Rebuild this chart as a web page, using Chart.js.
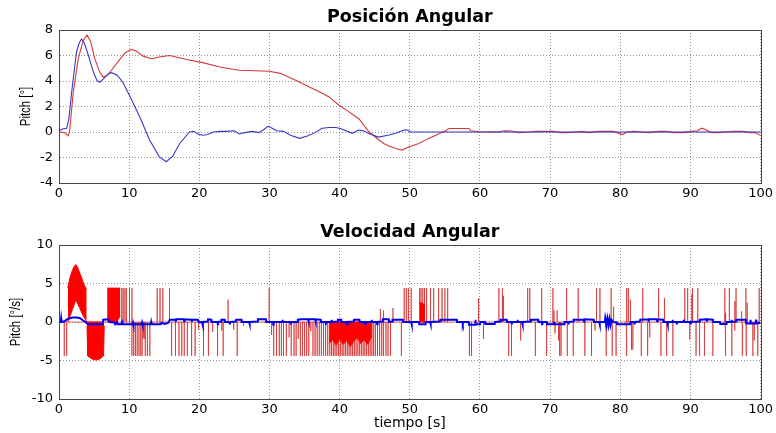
<!DOCTYPE html>
<html>
<head>
<meta charset="utf-8">
<script src="https://cdn.jsdelivr.net/npm/chart.js@4"></script>
<style>
  html, body { margin: 0; padding: 0; background: #fff; }
  #wrap { position: relative; width: 776px; height: 433px; }
  canvas { position: absolute; left: 0; }
  #pos { top: 0; }
  #vel { top: 216px; }
</style>
</head>
<body>
<div id="wrap">
  <canvas id="pos" width="776" height="216"></canvas>
  <canvas id="vel" width="776" height="217"></canvas>
</div>
<script>
// pitch angle [deg] vs time [s]
const pitchBlue = [
  [0, 0.1], [0.6, 0.25], [1.1, 0.3], [1.4, 1.0], [1.8, 3.1], [2.5, 6.3], [2.9, 7.0], [3.2, 7.3],
  [3.6, 7.0], [4.2, 6.0], [4.9, 4.7], [5.4, 4.05], [5.8, 3.9], [6.4, 4.2], [7.0, 4.55], [7.5, 4.65],
  [8.3, 4.45], [9.1, 3.9], [10.1, 2.8], [11.5, 1.2], [12.9, -0.6], [14.3, -1.95], [15.3, -2.33],
  [16.2, -1.9], [17.2, -0.9], [18.6, 0.0], [19.2, 0.05], [19.8, -0.15], [20.5, -0.25], [21.2, -0.2],
  [22.0, 0.0], [23.0, 0.05], [24.0, 0.05], [25.0, 0.1], [25.7, -0.15], [26.5, -0.05], [27.5, 0.05],
  [28.5, -0.05], [29.2, 0.2], [29.8, 0.45], [30.4, 0.3], [31.0, 0.1], [32.0, 0.05], [33.0, -0.25],
  [34.3, -0.5], [35.5, -0.3], [36.5, -0.05], [37.5, 0.3], [38.5, 0.35], [39.5, 0.35], [40.2, 0.25],
  [41.8, -0.1], [42.7, 0.15], [43.4, 0.1], [44.1, -0.1], [45.5, -0.4], [46.9, -0.25], [48.0, -0.1],
  [48.9, 0.1], [49.4, 0.18], [49.8, 0.12], [50.1, 0.0], [100, 0.0]
];
const pitchRed = [
  [0, 0.0], [0.8, -0.05], [1.3, -0.3], [1.5, 0.0], [2.03, 3.1], [2.75, 5.75], [3.46, 7.2], [4.0, 7.6],
  [4.5, 7.1], [5.1, 5.75], [5.8, 4.7], [6.3, 4.3], [7.0, 4.5], [7.7, 5.0], [8.4, 5.5], [9.4, 6.2],
  [10.3, 6.48], [11.0, 6.35], [12.0, 5.95], [13.2, 5.75], [14.5, 5.9], [15.8, 6.0], [17.0, 5.85],
  [18.5, 5.65], [20.5, 5.44], [22.9, 5.1], [25.7, 4.84], [28.0, 4.8], [30.0, 4.76], [31.5, 4.6],
  [32.8, 4.3], [34.2, 3.95], [35.6, 3.55], [37.1, 3.15], [38.5, 2.75], [39.9, 2.1], [41.3, 1.6],
  [42.8, 1.0], [43.5, 0.5], [44.2, 0.0], [45.0, -0.35], [45.6, -0.63], [46.3, -0.9], [47.0, -1.1],
  [48.2, -1.34], [48.9, -1.42], [49.9, -1.15], [51.3, -0.9], [52.7, -0.5], [54.1, -0.16], [55.1, 0.1],
  [55.6, 0.28], [58.4, 0.28], [58.7, 0.1], [59.8, 0.02], [61.0, 0.0], [62.5, 0.0], [63.5, 0.1],
  [64.5, 0.08], [65.5, -0.05], [67.0, 0.0], [68.0, 0.05], [69.0, 0.05], [70.5, 0.05], [71.5, -0.05],
  [72.5, -0.05], [73.5, 0.0], [74.5, 0.05], [75.5, -0.05], [77.0, 0.05], [79.0, 0.05], [80.3, -0.2],
  [81.0, 0.0], [82.0, 0.05], [83.0, 0.0], [84.0, -0.05], [85.5, 0.05], [86.5, 0.05], [87.5, -0.05],
  [89.0, -0.05], [90.0, 0.05], [91.0, 0.1], [91.6, 0.3], [92.3, 0.15], [93.0, -0.05], [94.0, -0.05],
  [95.0, 0.0], [96.0, 0.05], [97.5, 0.05], [98.5, -0.05], [99.3, -0.05], [99.7, -0.2], [100, -0.25]
];

// pitch rate [deg/s] vs time [s]
const velBlue = [
  [0, 0], [0.25, 0.05], [0.3, 0.45], [0.35, 0], [0.8, 0.1], [1.0, 0.25], [1.4, 0.45], [1.8, 0.55],
  [2.2, 0.6], [2.6, 0.58], [3.0, 0.5], [3.3, 0.3], [3.6, 0.1], [3.9, -0.1], [4.1, -0.3], [6.2, -0.3],
  [6.3, 0.3], [7.1, 0.35], [7.2, 0.0], [7.9, -0.05], [8.0, -0.3], [8.3, -0.05], [8.35, -0.3],
  [8.9, -0.3], [9.0, -0.05], [9.05, -0.3], [10.5, -0.3], [10.55, -0.1], [10.6, -0.3], [11.8, -0.3],
  [11.85, -0.1], [11.9, -0.3], [13.1, -0.3], [13.15, -0.05], [13.2, -0.3], [14.5, -0.3], [14.6, -0.1],
  [15.1, -0.25], [15.6, -0.1], [15.8, 0.3], [16.6, 0.3], [16.65, 0.05], [16.7, 0.35], [17.8, 0.35],
  [17.85, 0.1], [17.9, 0.35], [18.9, 0.3], [18.95, 0.05], [19.0, 0.3], [19.8, 0.3], [19.9, 0.0],
  [20.4, -0.05], [20.45, -0.35], [20.5, 0], [21.2, 0.05], [21.25, 0.35], [21.7, 0.3], [21.75, 0],
  [22.6, 0], [22.65, -0.4], [22.7, 0], [23.1, 0.05], [23.15, 0.3], [23.6, 0.3], [23.65, 0],
  [24.3, 0.0], [24.35, -0.3], [24.4, 0], [25.2, 0.05], [25.25, 0.3], [26.0, 0.3], [26.05, 0],
  [27.1, 0], [27.15, -0.25], [27.2, 0], [28.3, 0.05], [28.35, 0.35], [29.5, 0.35], [29.55, 0],
  [30.5, 0], [30.55, -0.35], [30.6, 0], [31.8, 0], [31.85, 0.3], [31.9, 0], [33.0, 0], [33.05, -0.3],
  [33.1, 0], [34.0, 0], [34.05, 0.3], [34.5, 0.35], [35.5, 0.35], [35.55, 0.1], [35.6, 0.35],
  [36.5, 0.35], [36.55, 0.1], [36.6, 0.35], [37.3, 0.3], [37.35, 0], [38.0, 0], [38.05, -0.35],
  [38.1, 0], [38.8, 0], [38.85, 0.3], [38.9, 0], [39.7, 0.05], [39.75, 0.3], [40.2, 0.3], [40.25, 0],
  [41.0, 0], [41.05, -0.3], [41.1, 0], [42.0, 0.05], [42.05, 0.3], [42.8, 0.3], [42.85, 0],
  [43.6, 0], [43.65, -0.3], [43.7, 0], [44.5, 0], [44.55, 0.3], [44.6, 0], [45.3, 0], [45.35, -0.3],
  [45.4, 0], [46.1, 0.05], [46.15, 0.35], [47.0, 0.35], [47.05, 0], [47.5, 0.05], [47.55, 0.3],
  [49.0, 0.3], [49.05, 0], [50.2, 0], [50.25, -0.3], [50.3, 0], [51.3, 0], [51.35, -0.3],
  [52.2, -0.3], [52.25, 0], [52.9, 0], [52.95, -0.25], [53.0, 0], [54.3, 0.05], [54.35, 0.3],
  [56.7, 0.3], [56.75, 0], [57.5, 0], [57.55, -0.2], [57.6, 0], [58.4, 0], [58.45, -0.35],
  [59.3, -0.35], [59.35, 0.3], [59.4, -0.3], [60.0, -0.3], [60.05, 0], [60.7, 0], [60.75, -0.25],
  [62.1, -0.25], [62.15, 0], [62.9, 0.05], [62.95, 0.3], [63.8, 0.3], [63.85, 0], [64.5, 0],
  [64.55, -0.3], [64.6, 0], [65.3, 0], [65.35, 0.3], [65.4, 0], [66.0, 0], [66.05, -0.3], [66.1, 0],
  [67.2, 0.05], [67.25, 0.3], [68.3, 0.3], [68.35, 0], [68.8, 0], [68.85, -0.3], [68.9, 0],
  [69.5, 0], [69.55, -0.3], [70.5, -0.3], [70.55, 0], [70.6, -0.3], [72.0, -0.3], [72.05, 0],
  [72.6, 0], [72.65, -0.3], [72.7, 0], [73.3, 0.05], [73.35, 0.3], [74.8, 0.3], [74.85, 0.05],
  [74.9, 0.35], [76.2, 0.3], [76.25, 0], [77.0, 0], [77.05, -0.3], [77.1, 0], [77.8, 0],
  [77.85, 0.45], [78.0, -0.45], [78.15, 0.45], [78.3, -0.45], [78.45, 0.4], [78.6, -0.4],
  [78.75, 0.3], [79.0, 0], [79.5, -0.05], [79.55, -0.3], [81.4, -0.3], [81.45, 0], [82.0, 0],
  [82.05, -0.3], [82.1, 0], [82.8, 0.05], [82.85, 0.3], [84.0, 0.35], [84.05, 0.05], [84.1, 0.35],
  [85.2, 0.35], [85.25, 0.1], [85.3, 0.35], [86.1, 0.3], [86.15, 0], [86.7, 0], [86.75, -0.3],
  [86.8, 0], [87.4, 0], [87.45, 0.3], [87.5, 0], [88.0, 0], [88.05, -0.3], [88.1, 0], [89.0, 0],
  [89.05, 0.3], [89.1, 0], [90.0, 0], [90.05, -0.3], [90.1, 0], [91.3, 0.05], [91.35, 0.3],
  [92.3, 0.35], [92.35, 0.05], [92.4, 0.35], [93.2, 0.3], [93.25, 0], [94.2, 0], [94.25, -0.25],
  [95.1, -0.25], [95.15, 0], [95.8, 0], [95.85, 0.3], [95.9, 0], [96.5, 0.05], [96.55, 0.3],
  [97.9, 0.3], [97.95, -0.2], [98.5, -0.2], [98.55, 0.3], [98.6, -0.2], [99.3, -0.2], [99.35, 0.3],
  [99.4, -0.2], [100, -0.1]
];

// saturated rate pulses of the red trace: [time, peak]
const velRedSpikes = [
  [0.1, 0.8], [0.75, -4.4], [1.1, -4.4],
  [8.95, 4.4], [9.15, 4.4], [9.4, 4.4], [9.6, 4.4], [10.05, 4.4], [10.4, 4.4], [10.4, -4.4],
  [10.65, -4.4], [10.9, -4.4], [11.15, -4.4], [11.4, -4.4], [11.65, -4.4], [11.85, -4.4], [12.0, -2.1],
  [12.15, -2.2], [12.3, -4.4], [12.6, -4.4], [12.95, -4.4],
  [14.0, 4.4], [14.4, 4.4], [14.8, 4.4], [15.75, 4.4],
  [16.05, -4.4], [16.6, -4.4], [17.1, -4.4], [17.5, -4.4], [17.85, -4.4], [18.3, -4.4], [18.9, -4.4],
  [19.4, -4.4], [19.9, -1.0], [20.6, -4.4], [21.3, -4.4], [21.9, -1.3], [22.6, -4.4], [23.2, -1.1],
  [23.4, -4.4], [24.1, 2.9], [24.9, -1.0], [25.4, -4.4], [26.3, -0.5],
  [29.95, 4.4],
  [30.3, -1.7], [30.6, -4.4], [31.0, -4.4], [31.4, -4.4], [31.7, -4.4], [32.0, -4.4], [32.4, -4.4],
  [32.8, -2.0], [33.1, -4.4], [33.5, -4.4], [33.8, -4.4], [34.1, -2.2], [34.4, -4.4], [34.7, -4.4],
  [35.0, -4.4], [35.3, -4.4], [35.6, -4.4], [35.9, -1.2], [36.2, -4.4], [36.5, -4.4], [36.8, -4.4],
  [37.1, -4.4], [37.4, -4.4], [37.7, -4.4], [38.0, -4.4], [38.3, -4.4], [38.6, -4.4], [38.85, -4.4],
  [39.1, -4.4], [39.35, -4.4], [39.6, -4.4], [39.85, -4.4], [40.1, -4.4], [40.35, -4.4], [40.6, -4.4],
  [40.85, -4.4], [41.1, -4.4], [41.35, -4.4], [41.6, -4.4], [41.85, -4.4], [42.1, -4.4], [42.35, -4.4],
  [42.6, -4.4], [42.85, -4.4], [43.1, -4.4], [43.35, -4.4], [43.6, -4.4], [43.85, -4.4], [44.1, -4.4],
  [44.35, -4.4], [44.6, -4.4], [44.85, -4.4], [45.1, -4.4], [45.4, -4.4], [45.7, -4.4], [45.8, 1.7],
  [46.0, -4.4], [46.2, 1.5], [46.3, -4.4], [46.6, -4.4], [46.9, -4.4], [47.25, -4.4], [47.6, 1.8],
  [48.8, -4.4],
  [49.2, 4.4], [49.5, 4.4], [49.8, 4.4], [50.2, 4.4], [51.4, 4.4], [51.6, 4.4], [51.85, 4.4],
  [52.1, 4.4], [52.4, 4.4], [52.95, 4.4], [53.4, 4.4], [54.1, 4.4], [54.6, 4.4], [55.0, 4.4], [55.4, 4.4],
  [58.5, -4.4], [58.8, -4.4], [59.8, 3.1], [60.5, -2.2], [62.7, 4.4], [63.2, 4.4], [63.35, 3.4],
  [64.1, -4.4], [64.5, -4.4], [65.8, -2.4], [66.8, 4.4], [67.1, 4.4], [67.9, -4.4],
  [68.8, 4.4], [69.5, -4.4], [70.4, 4.4], [70.55, 1.5], [70.7, -1.5], [71.0, 1.5], [71.2, -2.4],
  [71.35, -4.4], [71.55, -4.4], [72.35, 4.4], [72.45, -4.4], [73.3, -4.4], [74.0, 4.4], [74.95, -4.4],
  [75.9, -4.4], [76.4, -1.1], [76.55, 2.6], [76.65, 4.4], [77.1, 4.4], [78.0, -4.4], [78.7, 4.4],
  [78.85, -4.4], [79.05, 2.0], [79.4, -4.4], [80.85, -4.4], [80.95, 4.4], [81.15, 4.4], [81.45, 2.9],
  [81.6, -3.6], [81.8, -3.6], [83.0, -4.4], [83.2, 4.4], [83.9, -4.4], [84.2, -2.0], [85.4, 1.4],
  [85.5, 4.4], [85.8, -4.4], [86.3, 3.1], [86.6, -4.4], [87.5, -4.4], [89.2, 4.4], [89.6, 4.4],
  [89.9, -2.3], [90.2, 3.6], [90.3, 4.4], [90.8, -4.4], [91.05, 4.4], [91.3, -4.4], [92.0, -4.4],
  [93.2, -4.4], [94.9, 4.4], [94.95, -4.4], [95.05, 1.2], [95.55, 4.4], [95.9, -4.4], [96.3, 2.7],
  [96.35, -1.1], [96.5, 4.4], [97.3, 1.4], [97.4, -4.4], [97.9, 4.4], [97.95, -4.4], [98.1, 2.5],
  [98.9, -4.4], [99.1, -2.4], [99.6, -4.4], [99.8, 4.4]
];

// stretches where the red trace chatters so fast it reads as a solid patch: [time, low, high]
const velHump = [
  [1.25, 0, 4.4], [1.55, 0.7, 5.7], [1.9, 1.6, 6.7], [2.15, 2.2, 7.2], [2.4, 2.9, 7.45],
  [2.6, 2.5, 7.2], [2.9, 1.9, 6.5], [3.2, 1.3, 5.8], [3.5, 0.7, 5.0], [3.8, 0.3, 4.4], [3.95, 0, 4.4]
];
const velDip = [
  [4.0, -0.5, 0], [4.1, -4.4, 0], [4.7, -4.8, 0], [5.3, -4.95, 0], [5.8, -4.8, 0],
  [6.35, -4.4, 0], [6.45, -0.5, 0]
];
const velBlock = [
  [6.86, 0, 4.4], [8.2, 0, 4.4], [8.75, 0.8, 4.4]
];
const velChatter = [
  [38.5, -2.8, 0], [39.0, -2.3, 0], [39.5, -3.0, 0], [40.0, -2.2, 0], [40.5, -2.9, 0],
  [41.0, -2.4, 0], [41.5, -3.2, 0], [42.0, -2.5, 0], [42.5, -2.0, 0], [43.0, -2.8, 0],
  [43.5, -2.3, 0], [44.0, -2.9, 0], [44.6, -1.8, 0]
];
const velBurst = [
  [51.4, 0, 2.6], [52.2, 0, 2.2]
];

const xTicks = { min: 0, max: 100, step: 10 };
const posTicks = { min: -4, max: 8, step: 2 };
const velTicks = { min: -10, max: 10, step: 5 };

const xy = (arr) => arr.map(([x, y]) => ({ x, y }));

function spikePath(spikes) {
  const pts = [{ x: 0, y: 0 }];
  [...spikes].sort((a, b) => a[0] - b[0]).forEach(([t, v]) => {
    pts.push({ x: t, y: 0 }, { x: t, y: v }, { x: t, y: 0 });
  });
  pts.push({ x: 100, y: 0 });
  return pts;
}

const tickFont = { family: 'DejaVu Sans', size: 13 };

// box, title and axis labels drawn around the plot area
const frame = {
  id: 'frame',
  afterDraw(chart, args, o) {
    const { ctx, chartArea: a } = chart;
    ctx.save();
    ctx.strokeStyle = '#474747';
    ctx.lineWidth = 1;
    ctx.strokeRect(Math.round(a.left) + 0.5, Math.round(a.top) + 0.5,
      Math.round(a.width), Math.round(a.height));
    ctx.fillStyle = '#000';
    ctx.textAlign = 'center';
    ctx.textBaseline = 'alphabetic';
    ctx.font = 'bold 17.5px "DejaVu Sans"';
    ctx.fillText(o.title, (a.left + a.right) / 2, o.titleY);
    if (o.xlabel) {
      ctx.font = '14px "DejaVu Sans"';
      ctx.fillText(o.xlabel, (a.left + a.right) / 2, o.xlabelY);
    }
    ctx.translate(o.ylabelX, (a.top + a.bottom) / 2);
    ctx.rotate(-Math.PI / 2);
    ctx.scale(0.76, 1);
    ctx.font = '15px "Liberation Sans"';
    ctx.textBaseline = 'middle';
    ctx.fillText(o.ylabel, 0, 0);
    ctx.restore();
  }
};

function axes(yr, xHeight) {
  const grid = { color: 'rgba(0,0,0,0.42)', drawTicks: false };
  const border = { color: '#474747', dash: [1, 2] };
  return {
    x: {
      type: 'linear', min: xTicks.min, max: xTicks.max,
      ticks: { stepSize: xTicks.step, font: tickFont, color: '#000', padding: 3, maxRotation: 0 },
      grid, border,
      afterFit: (s) => { s.height = xHeight; }
    },
    y: {
      type: 'linear', min: yr.min, max: yr.max,
      ticks: { stepSize: yr.step, font: tickFont, color: '#000', padding: 6 },
      grid, border,
      afterFit: (s) => { s.width = 59; }
    }
  };
}

const common = {
  responsive: false,
  animation: false,
  events: [],
  elements: { point: { radius: 0 }, line: { tension: 0 } },
  plugins: { legend: { display: false }, tooltip: { enabled: false } }
};

new Chart(document.getElementById('pos'), {
  type: 'line',
  data: {
    datasets: [
      { data: xy(pitchBlue), borderColor: '#3838c4', borderWidth: 1.1 },
      { data: xy(pitchRed), borderColor: '#d63838', borderWidth: 1.1 }
    ]
  },
  options: {
    ...common,
    layout: { padding: { left: 0, right: 13, top: 30, bottom: 0 } },
    scales: axes(posTicks, 33),
    plugins: {
      ...common.plugins,
      frame: { title: 'Posición Angular', titleY: 21.5, ylabel: 'Pitch [°]', ylabelX: 25.5 }
    }
  },
  plugins: [frame]
});

// each patch is a low edge plus a high edge filled down to it
function patch(rows) {
  const low = rows.map(([t, lo]) => ({ x: t, y: lo }));
  const high = rows.map(([t, , hi]) => ({ x: t, y: hi }));
  return [
    { data: low, borderColor: '#ff0000', borderWidth: 1, fill: false },
    { data: high, borderColor: '#ff0000', borderWidth: 1, backgroundColor: '#ff0000', fill: '-1' }
  ];
}

new Chart(document.getElementById('vel'), {
  type: 'line',
  data: {
    datasets: [
      { data: xy(velBlue), borderColor: '#0000ee', borderWidth: 2 },
      ...patch(velHump),
      ...patch(velDip),
      ...patch(velBlock),
      ...patch(velChatter),
      ...patch(velBurst),
      { data: spikePath(velRedSpikes), borderColor: 'rgba(215,30,30,0.65)', borderWidth: 1 }
    ]
  },
  options: {
    ...common,
    layout: { padding: { left: 0, right: 13, top: 29, bottom: 0 } },
    scales: axes(velTicks, 34),
    plugins: {
      ...common.plugins,
      frame: {
        title: 'Velocidad Angular', titleY: 20.5, ylabel: 'Pitch [°/s]', ylabelX: 16,
        xlabel: 'tiempo [s]', xlabelY: 211
      }
    }
  },
  plugins: [frame]
});
</script>
</body>
</html>
